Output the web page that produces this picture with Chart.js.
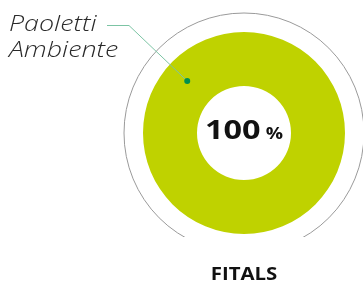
<!DOCTYPE html>
<html>
<head>
<meta charset="utf-8">
<script src="https://cdn.jsdelivr.net/npm/chart.js@4/dist/chart.umd.min.js"></script>
<style>
  html, body { margin: 0; padding: 0; background: #fff; }
  canvas { display: block; }
</style>
</head>
<body>
<canvas id="donut" width="363" height="282"></canvas>
<script>
// donut data
const labels = ["Paoletti Ambiente"];
const values = [100];
const colors = ["#bfd200"];
const title = "FITALS";

function centerPercent() {
  const total = values.reduce((a, b) => a + b, 0);
  return Math.round((values[0] / total) * 100);
}

// the original font is wider than what we have, so stretch text a bit
function wideText(ctx, text, x, y, stretch) {
  ctx.save();
  ctx.translate(x, y);
  ctx.scale(stretch, 1);
  ctx.fillText(text, 0, 0);
  ctx.restore();
  return ctx.measureText(text).width * stretch;
}

// draws the outer thin ring, the centre number, the label with its leader line
const decorPlugin = {
  id: "decor",
  beforeDatasetsDraw(chart) {
    const arc = chart.getDatasetMeta(0).data[0];
    const ctx = chart.ctx;
    ctx.save();
    ctx.beginPath();
    ctx.rect(0, 0, chart.width, 237);
    ctx.clip();
    ctx.beginPath();
    ctx.arc(arc.x, arc.y, arc.outerRadius + 19, 0, Math.PI * 2);
    ctx.strokeStyle = "#9a9a9a";
    ctx.lineWidth = 1;
    ctx.stroke();
    ctx.restore();
  },
  afterDraw(chart) {
    const arc = chart.getDatasetMeta(0).data[0];
    const ctx = chart.ctx;
    const cx = arc.x, cy = arc.y;
    ctx.save();
    ctx.textBaseline = "alphabetic";
    ctx.textAlign = "left";

    // centre value
    const num = String(centerPercent());
    const s = 1.2;
    ctx.fillStyle = "#111";
    ctx.font = "bold 27px 'Open Sans', sans-serif";
    const numW = ctx.measureText(num).width * s;
    ctx.font = "bold 16px 'Open Sans', sans-serif";
    const pctW = ctx.measureText("%").width * s;
    const gap = 5;
    const x0 = cx - (numW + gap + pctW) / 2;
    ctx.font = "bold 27px 'Open Sans', sans-serif";
    wideText(ctx, num, x0, cy + 6, s);
    ctx.font = "bold 16px 'Open Sans', sans-serif";
    wideText(ctx, "%", x0 + numW + gap, cy + 6, s);

    // label dot on the ring
    const ang = -2.4;
    const mid = (arc.innerRadius + arc.outerRadius) / 2 + 3;
    const dx = cx + Math.cos(ang) * mid;
    const dy = cy + Math.sin(ang) * mid;

    ctx.strokeStyle = "#7cc4a4";
    ctx.lineWidth = 1;
    ctx.beginPath();
    ctx.moveTo(107, 25.5);
    ctx.lineTo(129, 25.5);
    ctx.lineTo(dx, dy);
    ctx.stroke();

    ctx.fillStyle = "#00904f";
    ctx.beginPath();
    ctx.arc(dx, dy, 3, 0, Math.PI * 2);
    ctx.fill();

    // label text, split in two lines
    const words = labels[0].split(" ");
    ctx.fillStyle = "#2a2a2a";
    ctx.font = "italic 300 22px 'Open Sans', sans-serif";
    wideText(ctx, words[0], 9, 31, 1.22);
    wideText(ctx, words[1], 9, 57, 1.22);

    // title under the chart
    ctx.fillStyle = "#111";
    ctx.font = "bold 17px 'Open Sans', sans-serif";
    const tw = ctx.measureText(title).width * 1.2;
    wideText(ctx, title, cx - tw / 2, 280, 1.2);
    ctx.restore();
  }
};

new Chart(document.getElementById("donut"), {
  type: "doughnut",
  data: {
    labels: labels,
    datasets: [{
      data: values,
      backgroundColor: colors,
      borderWidth: 0
    }]
  },
  options: {
    responsive: false,
    animation: false,
    cutout: 47,
    layout: { padding: { left: 142, right: 17, top: 32, bottom: 48 } },
    plugins: {
      legend: { display: false },
      tooltip: { enabled: false }
    }
  },
  plugins: [decorPlugin]
});
</script>
</body>
</html>
